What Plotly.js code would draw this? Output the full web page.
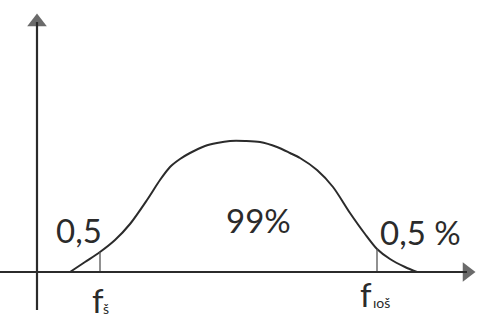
<!DOCTYPE html>
<html>
<head>
<meta charset="utf-8">
<script src="https://cdn.plot.ly/plotly-3.0.1.min.js"></script>
<style>
  html, body { margin: 0; padding: 0; background: #fff; }
  #chart { width: 479px; height: 324px; }
</style>
</head>
<body>
<div id="chart"></div>
<script>
// Bell-shaped distribution curve (horizontal position, height above the axis)
const curveX = [70, 85, 100, 115, 130, 147, 160, 170, 180, 190, 205, 217, 230, 245, 260, 277, 290, 300, 317, 333, 350, 365, 377, 390, 405, 417];
const curveY = [0, 10, 20, 32, 48, 72, 92, 105, 113, 119, 126, 129, 131, 131, 130, 125, 119, 114, 102, 85, 59, 38, 23, 13, 5, 0];

// Boundary frequencies and the height of the curve where they cut it
const boundX = [100, 377];
const boundY = [20, 23];

// Axis extents: vertical axis x = 37, horizontal axis y = 0
const vAxisX = [37, 37];
const vAxisY = [-38, 250];
const hAxisX = [0, 467];
const hAxisY = [0, 0];

// Text labels
const tailLeftLabel = '0,5';
const centerLabel = '99%';
const tailRightLabel = '0,5 %';
const boundMain = ['f', 'f'];
const boundSub = ['š', 'ıoš'];

const ink = '#2b2b2b';
const font = { family: 'Lato, Open Sans, sans-serif', size: 33, color: ink };
const subFont = { family: 'Lato, Open Sans, sans-serif', size: 14, color: ink };

const traces = [
  {
    x: curveX, y: curveY, mode: 'lines', type: 'scatter',
    line: { color: ink, width: 2, shape: 'spline', smoothing: 0.8 },
    hoverinfo: 'skip'
  }
];
boundX.forEach((bx, i) => {
  traces.push({
    x: [bx, bx], y: [0, boundY[i]], mode: 'lines', type: 'scatter',
    line: { color: '#555', width: 1.3 }, hoverinfo: 'skip'
  });
});

// axes drawn as lines ending in a filled triangular head
[[vAxisX, vAxisY, 'triangle-up'], [hAxisX, hAxisY, 'triangle-right']].forEach(([ax, ay, head]) => {
  traces.push({
    x: ax, y: ay, mode: 'lines+markers', type: 'scatter',
    line: { color: ink, width: 2.2 },
    marker: { symbol: ['circle', head], size: [0, 17], color: ink, line: { width: 0 } },
    hoverinfo: 'skip'
  });
});

const annotations = [
  { x: 79, y: 42, text: tailLeftLabel, showarrow: false, font: font },
  { x: 258, y: 52, text: centerLabel, showarrow: false, font: font },
  { x: 420, y: 40, text: tailRightLabel, showarrow: false, font: font },
  { x: 98, y: -28, text: boundMain[0], showarrow: false, font: font },
  { x: 106, y: -36, text: boundSub[0], showarrow: false, font: subFont },
  { x: 366, y: -22, text: boundMain[1], showarrow: false, font: font },
  { x: 381, y: -30, text: boundSub[1], showarrow: false, font: subFont }
];

const layout = {
  width: 479, height: 324,
  margin: { l: 0, r: 0, t: 0, b: 0 },
  paper_bgcolor: '#fff', plot_bgcolor: '#fff',
  showlegend: false,
  xaxis: { range: [0, 479], visible: false, fixedrange: true },
  yaxis: { range: [-52, 272], visible: false, fixedrange: true },
  annotations: annotations
};

Plotly.newPlot('chart', traces, layout, { displayModeBar: false, staticPlot: true });
</script>
</body>
</html>
